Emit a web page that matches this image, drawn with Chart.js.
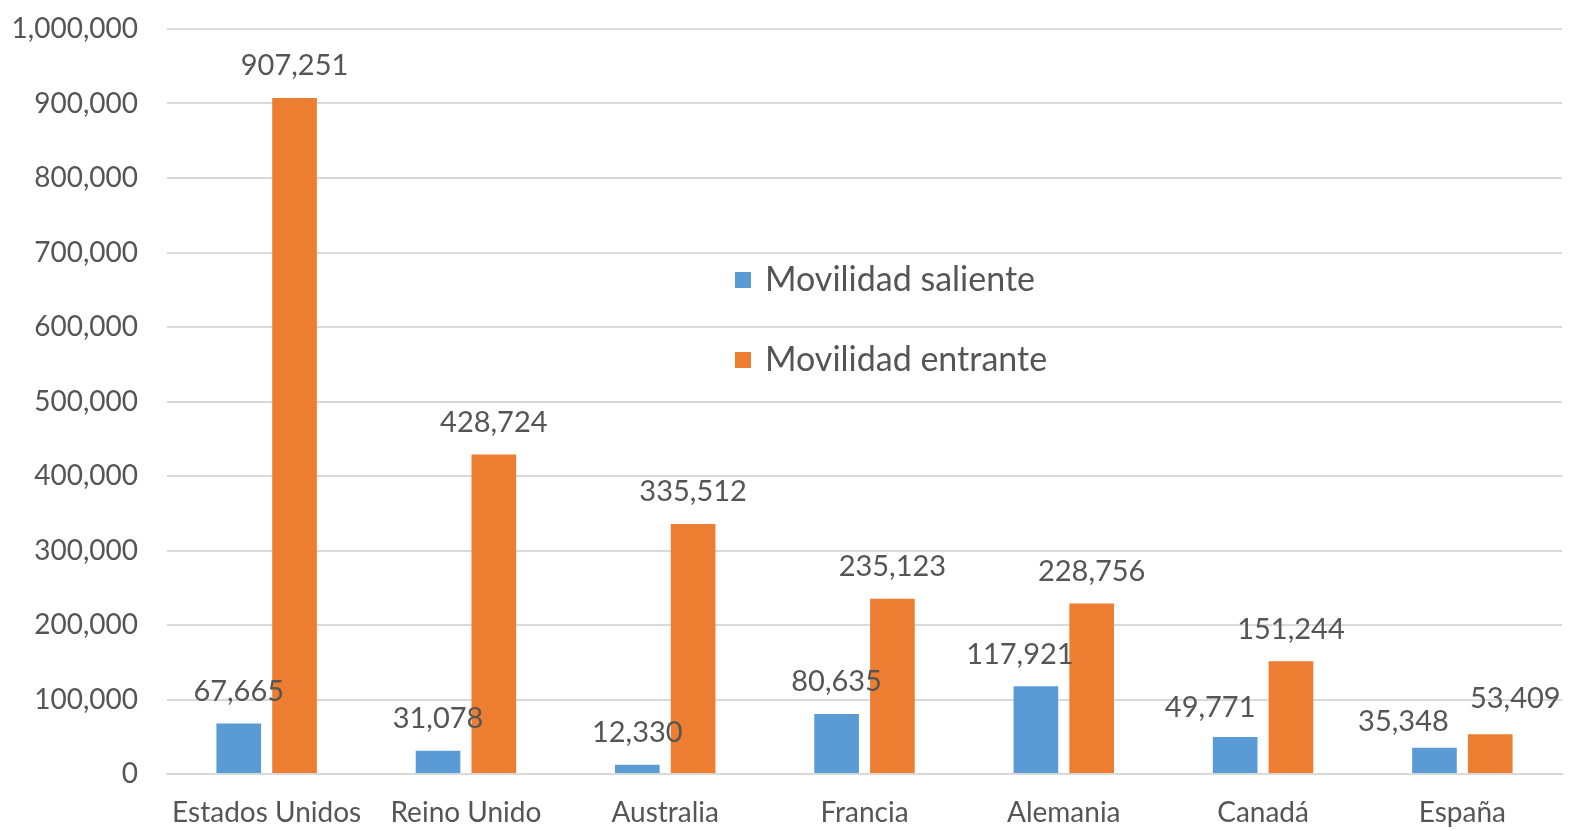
<!DOCTYPE html>
<html>
<head>
<meta charset="utf-8">
<script src="https://cdn.jsdelivr.net/npm/chart.js@4.4.0/dist/chart.umd.min.js"></script>
<style>
  html, body { margin: 0; padding: 0; background: #ffffff; }
  #wrap { width: 1570px; height: 831px; position: relative; }
</style>
</head>
<body>
<div id="wrap"><canvas id="c" width="1570" height="831"></canvas></div>
<script>
// ---- data ----
const categories = ["Estados Unidos", "Reino Unido", "Australia", "Francia", "Alemania", "Canadá", "España"];
const seriesNames = ["Movilidad saliente", "Movilidad entrante"];
const salienteValues = [67665, 31078, 12330, 80635, 117921, 49771, 35348];
const entranteValues = [907251, 428724, 335512, 235123, 228756, 151244, 53409];
const yTickMin = 0;
const yTickMax = 1000000;
const yTickStep = 100000;

// ---- style ----
const FONT = "Lato, 'Open Sans', sans-serif";
const TEXT = "#555555";
const COLORS = ["#5B9BD5", "#ED7D31"];
// manual label nudges (px) as in the original, [dx, dy] per bar
const labelNudge = [
  [[0,0],[0,0],[0,0],[0,0],[-16,0],[-25,3],[-31,6]],
  [[0,0],[0,0],[0,0],[0,0],[0,0],[0,0],[25,-4]]
];

const fmt = v => v.toLocaleString("en-US");

const dataLabels = {
  id: "dataLabels",
  afterDatasetsDraw(chart) {
    const ctx = chart.ctx;
    ctx.save();
    ctx.font = "29px " + FONT;
    ctx.fillStyle = TEXT;
    ctx.textAlign = "center";
    ctx.textBaseline = "middle";
    chart.data.datasets.forEach((ds, di) => {
      const meta = chart.getDatasetMeta(di);
      meta.data.forEach((el, i) => {
        const n = labelNudge[di][i];
        ctx.fillText(fmt(ds.data[i]), el.x + n[0], el.y - 32 + n[1]);
      });
    });
    ctx.restore();
  }
};

const innerLegend = {
  id: "innerLegend",
  afterDraw(chart) {
    const ctx = chart.ctx;
    ctx.save();
    ctx.font = "34px " + FONT;
    ctx.textBaseline = "middle";
    ctx.textAlign = "left";
    const x0 = 735, ys = [280, 360];
    chart.data.datasets.forEach((ds, di) => {
      ctx.fillStyle = ds.backgroundColor;
      ctx.fillRect(x0, ys[di] - 8, 16, 16);
      ctx.fillStyle = TEXT;
      ctx.fillText(ds.label, x0 + 30, ys[di]);
    });
    ctx.restore();
  }
};

new Chart(document.getElementById("c"), {
  type: "bar",
  data: {
    labels: categories,
    datasets: [
      { label: seriesNames[0], data: salienteValues, backgroundColor: COLORS[0] },
      { label: seriesNames[1], data: entranteValues, backgroundColor: COLORS[1] }
    ]
  },
  options: {
    responsive: false,
    animation: false,
    devicePixelRatio: 1,
    layout: { padding: { top: 29, right: 8, bottom: 0, left: 0 } },
    categoryPercentage: 0.56,
    barPercentage: 0.8,
    plugins: {
      legend: { display: false },
      tooltip: { enabled: false }
    },
    scales: {
      x: {
        grid: { display: false, drawTicks: false },
        border: { display: true, color: "#d9d9d9", width: 2 },
        ticks: {
          color: TEXT,
          font: { family: FONT, size: 28 },
          padding: 22,
          maxRotation: 0,
          autoSkip: false
        },
        afterFit(s) { s.height = 57; s.paddingLeft = 0; s.paddingRight = 0; }
      },
      y: {
        min: yTickMin,
        max: yTickMax,
        grid: { color: "#d9d9d9", lineWidth: 2, drawTicks: false },
        border: { display: false },
        ticks: {
          stepSize: yTickStep,
          color: TEXT,
          font: { family: FONT, size: 28 },
          padding: 29,
          callback: v => fmt(v)
        },
        afterFit(s) { s.width = 167; s.paddingTop = 0; s.paddingBottom = 0; }
      }
    }
  },
  plugins: [dataLabels, innerLegend]
});
</script>
</body>
</html>
